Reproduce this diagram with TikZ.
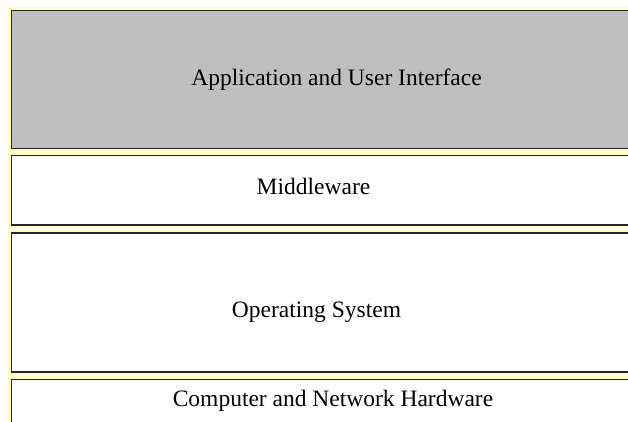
\documentclass[tikz,border=0pt]{standalone}
\usepackage{fontspec}
\setmainfont{Liberation Serif}
\usepackage{tikz}

\tikzset{
    layer/.style={
        rectangle, anchor=north west, inner sep=0pt,
        minimum width=650pt,
        draw=black!85, line width=1.7pt, fill=white,
        preaction={draw=yellow!22, line width=7pt}
    },
    layertext/.style={anchor=base, inner sep=0pt, font=\fontsize{23.5}{27}\selectfont}
}

\begin{document}
\begin{tikzpicture}[x=1pt, y=-1pt]
            \useasboundingbox (0, 0) rectangle (628, 421);
            \clip (0, 0) rectangle (628, 421);
            % the four layers, top to bottom
            \node[layer, fill=black!25, minimum height=138pt] (app) at (10.5, 9.5) {};
            \node[layer, minimum height=69.5pt] (mid) at (10.5, 154.5) {};
            \node[layer, minimum height=139pt] (os) at (10.5, 232) {};
            \node[layer, minimum height=62pt] (hw) at (10.5, 378.5) {};
            % texts
            \node[layertext] (apptext) at (336.5, 85) {Application and User Interface};
            \node[layertext] (midtext) at (313.5, 194) {Middleware};
            \node[layertext] (ostext) at (316.5, 317) {Operating System};
            \node[layertext] (hwtext) at (333, 406) {Computer and Network Hardware};
        \end{tikzpicture}
\end{document}
